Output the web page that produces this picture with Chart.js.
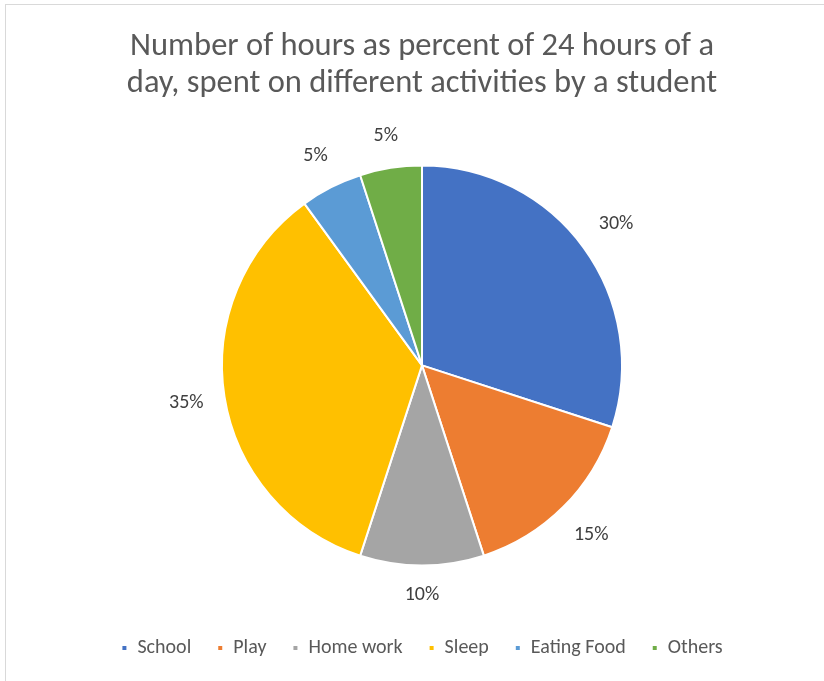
<!DOCTYPE html>
<html>
<head>
<meta charset="utf-8">
<script src="https://cdn.jsdelivr.net/npm/chart.js@4.4.1/dist/chart.umd.min.js"></script>
<style>
  html, body { margin: 0; padding: 0; background: #ffffff; }
  #wrap { position: absolute; left: 0; top: 0; width: 824px; height: 681px; }
  #frame { position: absolute; left: 5px; top: 4px; width: 830px; height: 700px; border: 1px solid #d9d9d9; box-sizing: border-box; }
  canvas { position: absolute; left: 0; top: 0; }
</style>
</head>
<body>
<div id="wrap">
  <div id="frame"></div>
  <canvas id="c" width="824" height="681"></canvas>
</div>
<script>
const titleLines = ["Number of hours as percent of 24 hours of a", "day, spent on different activities by a student"];
const categories = ["School", "Play", "Home work", "Sleep", "Eating Food", "Others"];
const percentValues = [30, 15, 10, 35, 5, 5];
const sliceColors = ["#4472C4", "#ED7D31", "#A5A5A5", "#FFC000", "#5B9BD5", "#70AD47"];

const FONT = "Carlito, 'Liberation Sans Narrow', 'DejaVu Sans Condensed', sans-serif";

const outsideLabels = {
  id: 'outsideLabels',
  afterDatasetsDraw(chart) {
    const ctx = chart.ctx;
    const meta = chart.getDatasetMeta(0);
    ctx.save();
    ctx.font = "20px " + FONT;
    ctx.fillStyle = "#404040";
    ctx.textAlign = "center";
    ctx.textBaseline = "middle";
    meta.data.forEach((arc, i) => {
      const p = arc.getProps(['x', 'y', 'startAngle', 'endAngle', 'outerRadius']);
      const mid = (p.startAngle + p.endAngle) / 2;
      const txt = percentValues[i] + "%";
      const hw = ctx.measureText(txt).width / 2;
      const hh = 10;
      const ext = Math.abs(Math.cos(mid)) * hw + Math.abs(Math.sin(mid)) * hh;
      const r = p.outerRadius + 20 + ext;
      ctx.fillText(txt, p.x + Math.cos(mid) * r, p.y + Math.sin(mid) * r);
    });
    ctx.restore();
  }
};

new Chart(document.getElementById('c'), {
  type: 'pie',
  data: {
    labels: categories,
    datasets: [{
      data: percentValues,
      backgroundColor: sliceColors,
      borderColor: "#ffffff",
      borderWidth: 2,
      radius: 200
    }]
  },
  options: {
    responsive: false,
    animation: false,
    layout: { padding: { left: 20, right: 0, top: 0, bottom: 13 } },
    plugins: {
      tooltip: { enabled: false },
      title: {
        display: true,
        text: titleLines,
        color: "#595959",
        font: { family: FONT, size: 32.5, weight: 'normal', lineHeight: 1.12 },
        padding: { top: 29, bottom: 17 }
      },
      legend: {
        position: 'bottom',
        labels: {
          color: "#595959",
          font: { family: FONT, size: 20 },
          boxWidth: 6,
          boxHeight: 6,
          padding: 26
        }
      }
    }
  },
  plugins: [outsideLabels]
});
</script>
</body>
</html>
